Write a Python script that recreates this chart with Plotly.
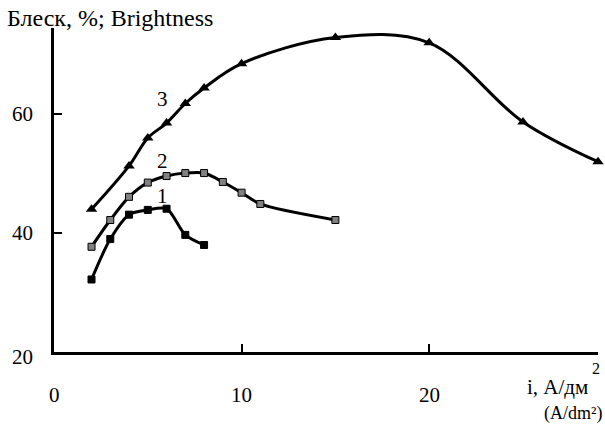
import plotly.graph_objects as go

# ---- data ----
x1 = [2, 3, 4, 5, 6, 7, 8]
y1 = [32.2, 39.0, 43.1, 43.9, 44.1, 39.7, 38.0]

x2 = [2, 3, 4, 5, 6, 7, 8, 9, 10, 11, 15]
y2 = [37.7, 42.2, 46.1, 48.5, 49.6, 50.1, 50.1, 48.6, 46.8, 44.9, 42.2]

x3 = [2, 4, 5, 6, 7, 8, 10, 15, 20, 25, 29]
y3 = [44.0, 51.3, 56.0, 58.5, 61.8, 64.4, 68.5, 72.9, 72.0, 58.7, 52.0]

curve_labels = ["1", "2", "3"]
curve_label_x = [5.8, 5.8, 5.8]
curve_label_y = [46.3, 52.2, 62.6]

x_ticks = [0, 10, 20]
x_tick_labels = ["0", "10", "20"]
y_ticks = [20, 40, 60]
y_tick_labels = ["20", "40", "60"]

FONT = "Liberation Serif, Times New Roman, serif"
FS = 21

# plot area in pixels
L, R, T, B = 54, 7, 28, 73
W = 605 - L - R
H = 425 - T - B
YMIN, YMAX = 20, 74.5


def py(pix):
    return (425 - B - pix) / H


def px(pix):
    return (pix - L) / W


fig = go.Figure()

fig.add_trace(go.Scatter(
    x=x1, y=y1, mode="lines+markers",
    line=dict(color="black", width=3, shape="spline", smoothing=0.8),
    marker=dict(symbol="square", size=7, color="black", line=dict(color="black", width=1)),
    showlegend=False, cliponaxis=False))
fig.add_trace(go.Scatter(
    x=x2, y=y2, mode="lines+markers",
    line=dict(color="black", width=3, shape="spline", smoothing=0.8),
    marker=dict(symbol="square", size=7, color="#808080", line=dict(color="black", width=1)),
    showlegend=False, cliponaxis=False))
fig.add_trace(go.Scatter(
    x=x3, y=y3, mode="lines+markers",
    line=dict(color="black", width=3, shape="spline", smoothing=1.0),
    marker=dict(symbol="triangle-up", size=10, color="black"),
    showlegend=False, cliponaxis=False))

font = dict(family=FONT, size=FS, color="black")
anns = []
for t, xx, yy in zip(curve_labels, curve_label_x, curve_label_y):
    anns.append(dict(x=xx, y=yy, xref="x", yref="y", text=t, showarrow=False, font=font,
                     xanchor="center", yanchor="middle"))
for v, t in zip(x_ticks, x_tick_labels):
    anns.append(dict(x=v, y=py(395), xref="x", yref="paper", text=t, showarrow=False, font=font,
                     xanchor="center", yanchor="middle"))
for v, t in zip(y_ticks, y_tick_labels):
    yy = py(357) if v == 20 else (v - YMIN) / (YMAX - YMIN)
    anns.append(dict(x=px(35), y=yy, xref="paper", yref="paper", text=t, showarrow=False,
                     xanchor="right", yanchor="middle", font=font))
anns.append(dict(x=px(5), y=py(18), xref="paper", yref="paper", xanchor="left", yanchor="middle",
                 text="Блеск, %; Brightness", showarrow=False,
                 font=dict(family=FONT, size=24, color="black")))
anns.append(dict(x=px(590), y=py(387), xref="paper", yref="paper", xanchor="right", yanchor="middle",
                 text="i, А/дм", showarrow=False, font=font))
anns.append(dict(x=px(596), y=py(368), xref="paper", yref="paper", xanchor="center", yanchor="middle",
                 text="2", showarrow=False, font=dict(family=FONT, size=16, color="black")))
anns.append(dict(x=px(604), y=py(413), xref="paper", yref="paper", xanchor="right", yanchor="middle",
                 text="(A/dm²)", showarrow=False, font=dict(family=FONT, size=18, color="black")))

fig.update_layout(
    width=605, height=425,
    margin=dict(l=L, r=R, t=T, b=B, autoexpand=False),
    paper_bgcolor="white", plot_bgcolor="white",
    font=font,
    annotations=anns,
    xaxis=dict(range=[0, 29], showgrid=False, zeroline=False, showline=True, linecolor="black",
               linewidth=2.5, ticks="inside", ticklen=8, tickwidth=2, tickcolor="black",
               tickvals=x_ticks, showticklabels=False),
    yaxis=dict(range=[YMIN, YMAX], showgrid=False, zeroline=False, showline=True, linecolor="black",
               linewidth=2.5, ticks="inside", ticklen=8, tickwidth=2, tickcolor="black",
               tickvals=y_ticks, showticklabels=False),
)

fig.write_html("out.html", config={"displayModeBar": False},
               post_script="document.body.style.margin='0';")
